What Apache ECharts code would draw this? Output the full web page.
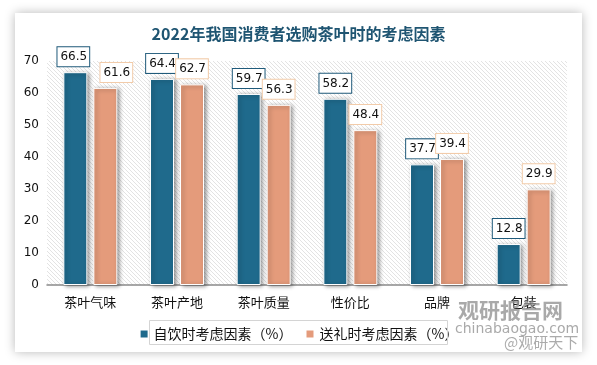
<!DOCTYPE html>
<html><head><meta charset="utf-8">
<script src="https://cdn.jsdelivr.net/npm/echarts@6/dist/echarts.min.js"></script>
<style>html,body{margin:0;padding:0;background:#fff}#c{width:597px;height:365px}</style>
</head><body><div id="c"></div>
<script>
var titleText = '2022年我国消费者选购茶叶时的考虑因素';
var categories = ['茶叶气味', '茶叶产地', '茶叶质量', '性价比', '品牌', '包装'];
var seriesNames = ['自饮时考虑因素（%）', '送礼时考虑因素（%）'];
var selfUse = [66.5, 64.4, 59.7, 58.2, 37.7, 12.8];
var giftUse = [61.6, 62.7, 56.3, 48.4, 39.4, 29.9];
var yTicks = [0, 10, 20, 30, 40, 50, 60, 70];

var BLUE = '#1f6a8c', ORANGE = '#e49b7b';

// hatch pattern
var pc = document.createElement('canvas');
pc.width = 4; pc.height = 4;
var px = pc.getContext('2d');
px.fillStyle = '#ffffff'; px.fillRect(0, 0, 4, 4);
px.strokeStyle = '#e0e0e0'; px.lineWidth = 0.9;
px.beginPath();
px.moveTo(0, 0); px.lineTo(4, 4);
px.moveTo(-2, 2); px.lineTo(2, 6);
px.moveTo(2, -2); px.lineTo(6, 2);
px.stroke();

var chart = echarts.init(document.getElementById('c'), null, {renderer: 'canvas'});

function labelCfg(border) {
  return {
    show: true, position: 'top', distance: 6,
    color: '#111', fontSize: 12, fontFamily: 'DejaVu Sans',
    backgroundColor: '#fff', borderColor: border, borderWidth: 1,
    padding: [4, 2, 3, 3]
  };
}
var giftData = giftUse.map(function (v, i) {
  return i === 0 ? {value: v, label: {offset: [11, 0]}} : v;
});
var selfData = selfUse.map(function (v, i) {
  return i === 0 ? {value: v, label: {offset: [-2, 0]}} : v;
});

chart.setOption({
  backgroundColor: '#fff',
  animation: false,
  graphic: [
    {type: 'rect', z: -10, shape: {x: 15, y: 13, width: 567, height: 339},
     style: {fill: '#fff', shadowBlur: 10, shadowColor: 'rgba(0,0,0,0.28)'}},
    {type: 'rect', z: -5, shape: {x: 47, y: 61, width: 520, height: 224},
     style: {fill: {image: pc, repeat: 'repeat'}}},
    {type: 'rect', z: 5, shape: {x: 149.5, y: 320.5, width: 298, height: 24},
     style: {fill: 'none', stroke: '#d4d4d4', lineWidth: 1}},
    {type: 'text', z: 20, left: 458, top: 300,
     style: {text: '观研报告网', fill: 'rgba(140,140,140,0.75)', font: 'bold 21px "Noto Sans CJK SC"'}},
    {type: 'text', z: 20, left: 455, top: 322,
     style: {text: 'chinabaogao.com', fill: 'rgba(140,140,140,0.75)', font: '14px "DejaVu Sans"'}},
    {type: 'text', z: 20, left: 504, top: 335,
     style: {text: '@观研天下', fill: 'rgba(150,150,150,0.8)', font: '15px "Noto Sans CJK SC"'}}
  ],
  title: {
    text: titleText, left: 'center', top: 21,
    textStyle: {color: '#1f5572', fontSize: 16, fontWeight: 'bold', fontFamily: '"Noto Sans CJK SC"'}
  },
  legend: {
    data: seriesNames, left: 'center', top: 322, itemWidth: 9, itemHeight: 9,
    itemGap: 12, icon: 'rect',
    textStyle: {color: '#111', fontSize: 14, fontFamily: '"Noto Sans CJK SC"'}
  },
  grid: {left: 47, right: 30, top: 61, bottom: 80},
  xAxis: {
    type: 'category', data: categories,
    axisLine: {lineStyle: {color: '#8a8a8a', width: 1.5}},
    axisTick: {show: false},
    axisLabel: {color: '#111', fontSize: 13, margin: 11, fontFamily: '"Noto Sans CJK SC"'}
  },
  yAxis: {
    type: 'value', min: yTicks[0], max: yTicks[yTicks.length - 1], interval: 10,
    axisLine: {show: false}, axisTick: {show: false}, splitLine: {show: false},
    axisLabel: {color: '#111', fontSize: 12, margin: 8, fontFamily: 'DejaVu Sans'}
  },
  series: [
    {name: seriesNames[0], type: 'bar', data: selfData, barWidth: 24, barGap: '25%',
     itemStyle: {color: BLUE, borderColor: '#fff', borderWidth: 1,
       shadowBlur: 4, shadowOffsetX: 2, shadowOffsetY: 1, shadowColor: 'rgba(0,0,0,0.4)'},
     label: labelCfg('#1f5a7a')},
    {name: seriesNames[1], type: 'bar', data: giftData, barWidth: 24,
     itemStyle: {color: ORANGE, borderColor: '#fff', borderWidth: 1,
       shadowBlur: 4, shadowOffsetX: 2, shadowOffsetY: 1, shadowColor: 'rgba(0,0,0,0.4)'},
     label: labelCfg('#f2cba9')}
  ]
});
</script></body></html>
